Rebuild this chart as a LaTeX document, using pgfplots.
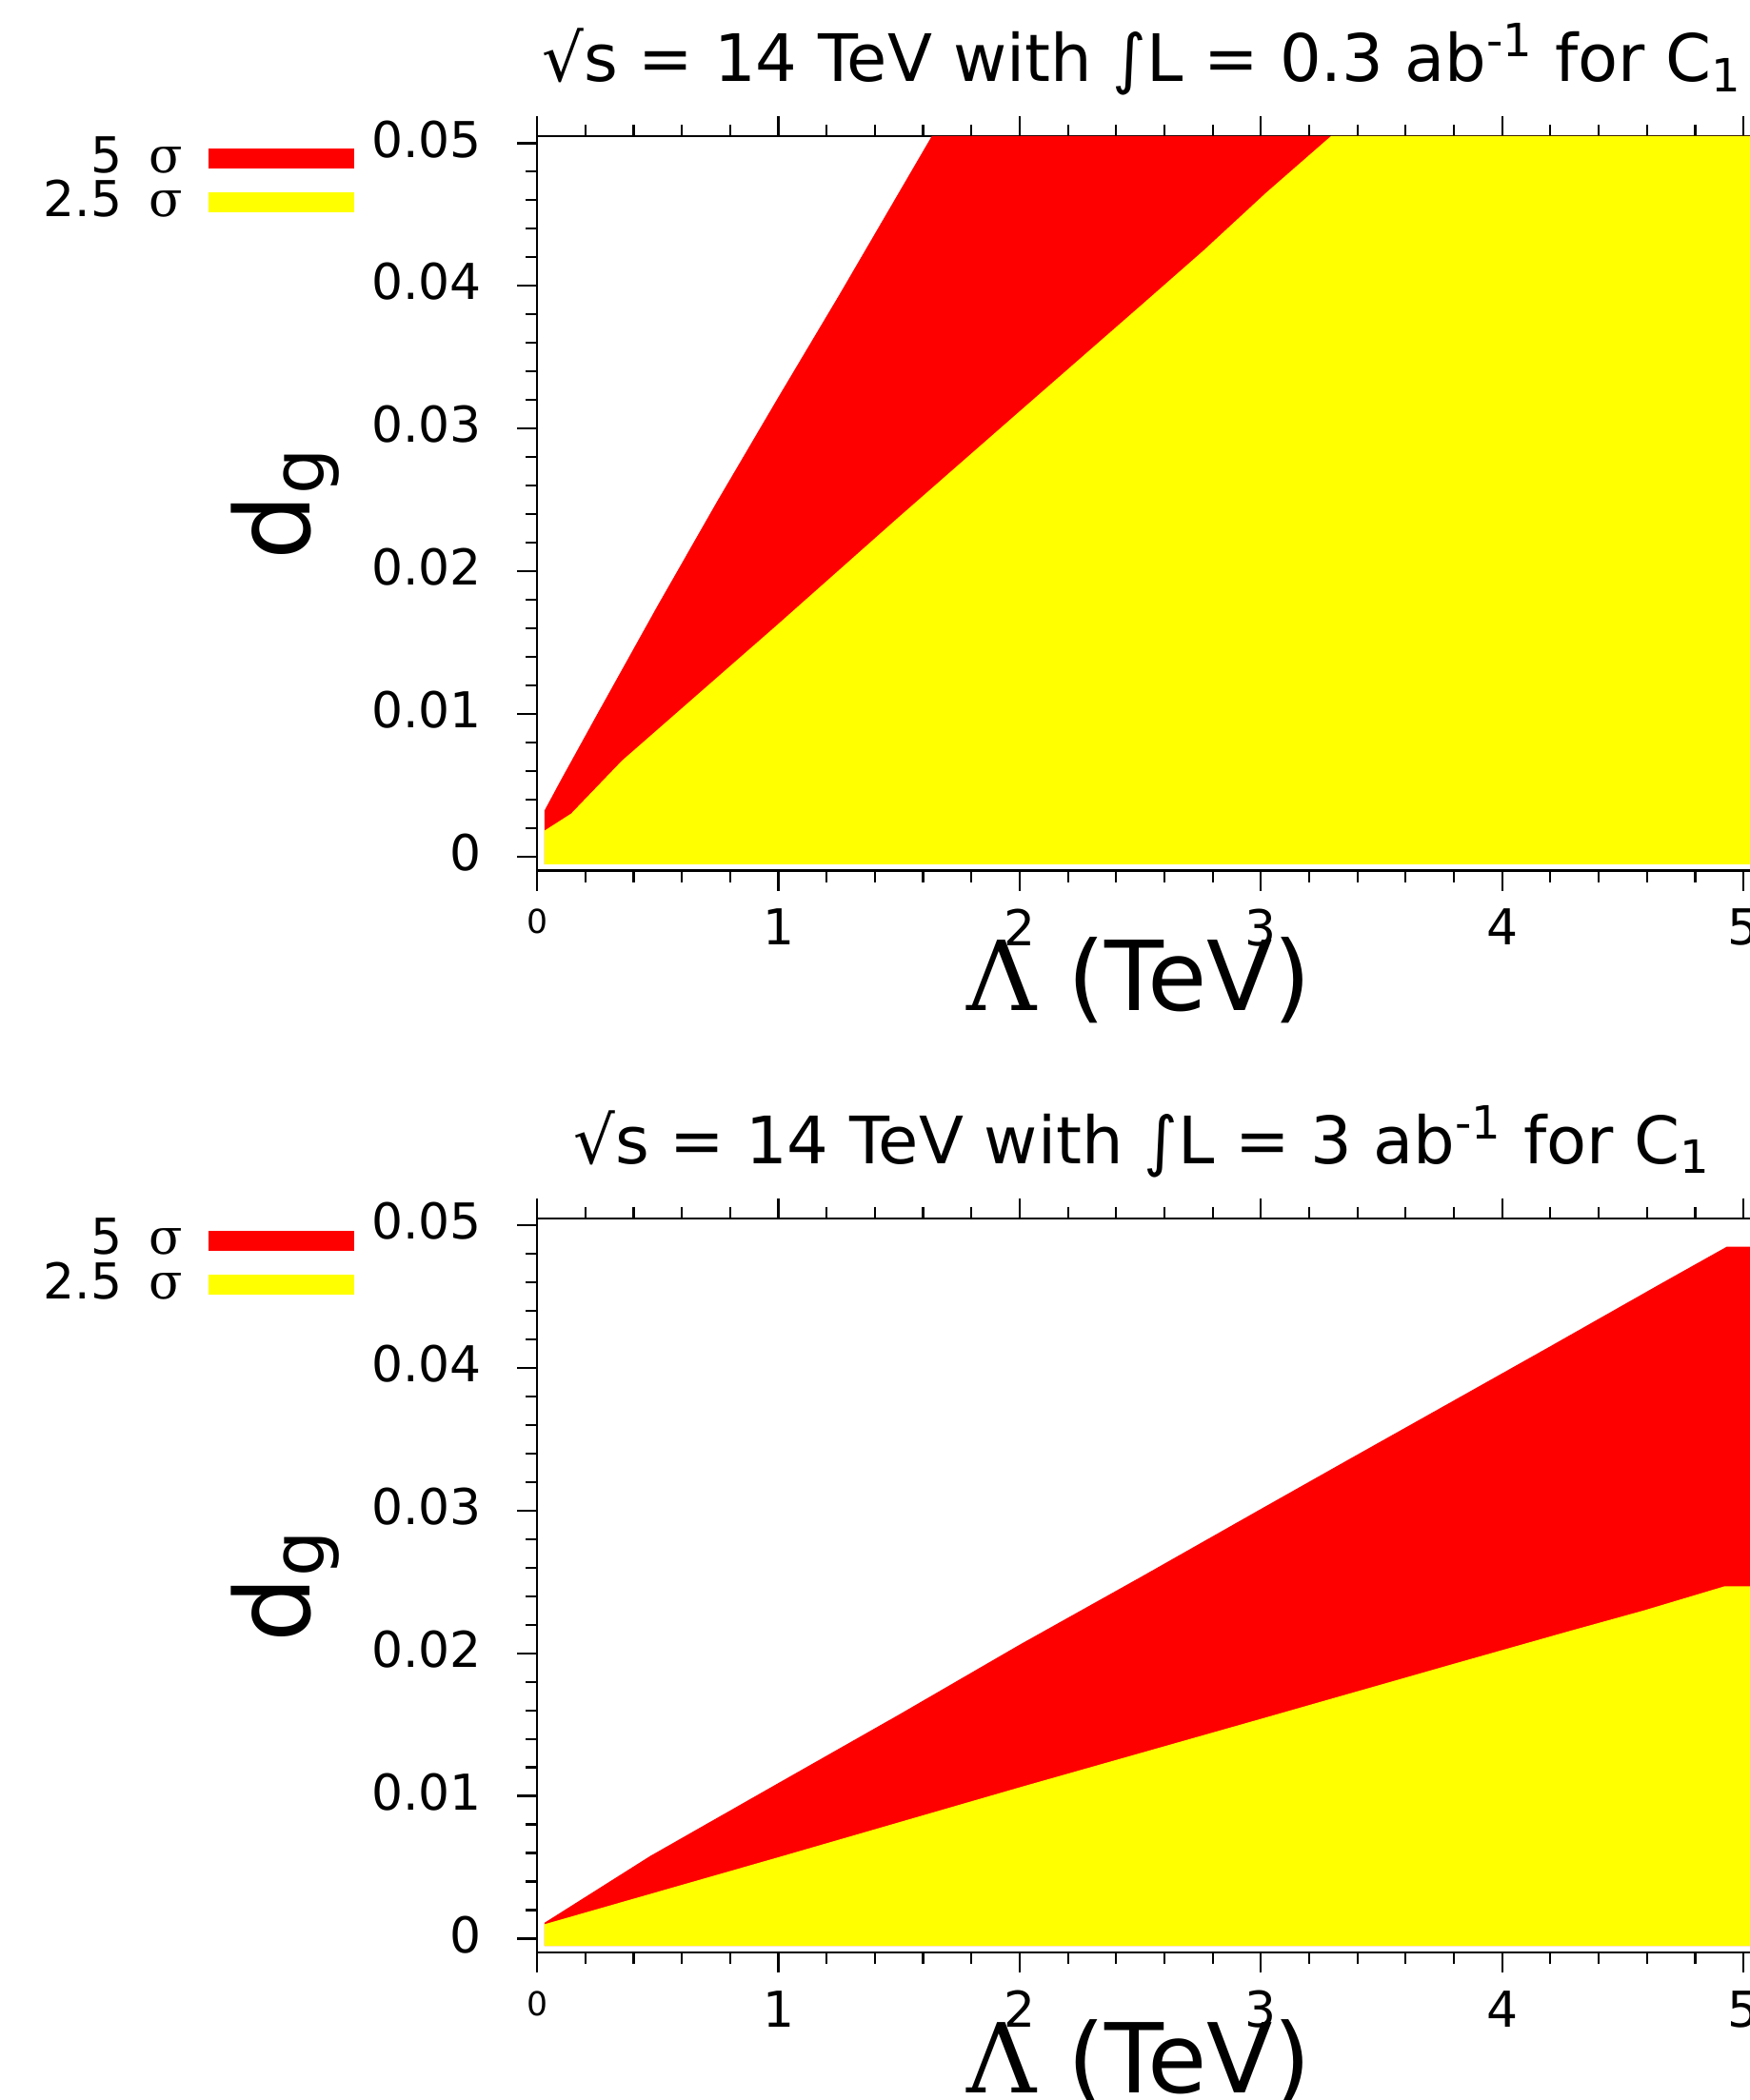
\documentclass[border=0pt]{standalone}
\usepackage{pgfplots}
\pgfplotsset{compat=1.18}
\usepackage{fontspec}
\setmainfont{DejaVu Sans}
\newfontfamily\serifg{DejaVu Serif}
\definecolor{pred}{RGB}{255,0,0}
\definecolor{pyel}{RGB}{255,255,0}
\newcommand{\tickfont}{\fontsize{10.5}{12}\selectfont}
\pgfplotsset{
  panel/.style={
    scale only axis,
    width=90.95mm, height=54.85mm,
    xmin=0, xmax=5.05, ymin=-0.001, ymax=0.0505,
    axis line style={line width=0.45pt},
    tick style={line width=0.45pt, black},
    tick align=outside,
    major tick length=1.5mm, minor tick length=0.85mm,
    xtick={0,1,2,3,4,5},
    xticklabels={{\fontsize{7}{8}\selectfont 0},1,2,3,4,5},
    minor x tick num=4,
    ytick={0,0.01,0.02,0.03,0.04,0.05},
    yticklabels={0,0.01,0.02,0.03,0.04,0.05},
    minor y tick num=4,
    scaled y ticks=false, scaled x ticks=false,
    tick label style={font=\tickfont},
    xticklabel style={yshift=-0.1mm},
    yticklabel style={xshift=-1.4mm, yshift=0.3mm},
    xlabel={{\serifg Λ} (TeV)},
    xlabel style={font=\fontsize{20.5}{24}\selectfont, at={(axis description cs:0.494,-0.149)}, anchor=center},
    ylabel={d\textsubscript{g}},
    ylabel style={font=\fontsize{22}{26}\selectfont, at={(axis description cs:-0.207,0.5)}, anchor=center, rotate=0},
    title style={font=\fontsize{13.9}{16}\selectfont, at={(axis description cs:0.497,1.066)}, anchor=center},
    legend style={draw=none, fill=none, at={(axis description cs:-0.1495,1.001)}, anchor=north east,
      inner sep=0pt, row sep=0pt, column sep=1.9mm, font=\tickfont,
      nodes={inner sep=0pt, text height=2.7mm, text depth=0.6mm}},
    legend cell align=right, legend plot pos=right,
    legend image code/.code={\fill[##1] (0mm,-0.75mm) rectangle (10.9mm,0.75mm);},
  }
}
\begin{document}
\begin{tikzpicture}
% top panel: 0.3 ab^-1
\begin{axis}[panel, at={(40.1mm,91.79mm)}, anchor=south west,
  title={√s = 14 TeV with ∫L = 0.3 ab\textsuperscript{-1} for C\textsubscript{1}}]
\addplot[fill=pred, draw=none] coordinates {
 (0.03,-0.00055) (0.03,0.0032) (0.1,0.0054) (0.25,0.0100) (0.5,0.0176) (0.75,0.0250)
 (1.0,0.0322) (1.25,0.0393) (1.381,0.0431) (1.636,0.0505) (5.05,0.0505) (5.05,-0.00055)} -- cycle;
\addplot[fill=pyel, draw=none] coordinates {
 (0.03,-0.00055) (0.03,0.0018) (0.141,0.0030) (0.351,0.0067) (1.0,0.0163) (1.5,0.0238)
 (2.0,0.0312) (2.508,0.0387) (2.764,0.0425) (3.02,0.0465) (3.291,0.0505) (5.05,0.0505) (5.05,-0.00055)} -- cycle;
\legend{5\hspace{2mm}{\serifg σ}, 2.5\hspace{2mm}{\serifg σ}}
\end{axis}
% bottom panel: 3 ab^-1
\begin{axis}[panel, at={(40.1mm,10.99mm)}, anchor=south west,
  title={√s = 14 TeV with ∫L = 3 ab\textsuperscript{-1} for C\textsubscript{1}}]
\addplot[fill=pred, draw=none] coordinates {
 (0.03,-0.00052) (0.03,0.0011) (0.47,0.0058) (1.0,0.0109) (1.5,0.0157) (2.0,0.0206)
 (2.508,0.0254) (2.988,0.0300) (3.355,0.0335) (3.787,0.0376) (4.187,0.0414) (4.667,0.0460)
 (4.931,0.0485) (5.05,0.0485) (5.05,-0.00052)} -- cycle;
\addplot[fill=pyel, draw=none] coordinates {
 (0.03,-0.00052) (0.03,0.0010) (1.0,0.0057) (2.0,0.0106) (3.0,0.0154) (3.787,0.0192)
 (4.267,0.0215) (4.587,0.0230) (4.923,0.0247) (5.05,0.0247) (5.05,-0.00052)} -- cycle;
\legend{5\hspace{2mm}{\serifg σ}, 2.5\hspace{2mm}{\serifg σ}}
\end{axis}
\pgfresetboundingbox
\useasboundingbox (0,0) rectangle (130.6mm,156.8mm);
\end{tikzpicture}
\end{document}
